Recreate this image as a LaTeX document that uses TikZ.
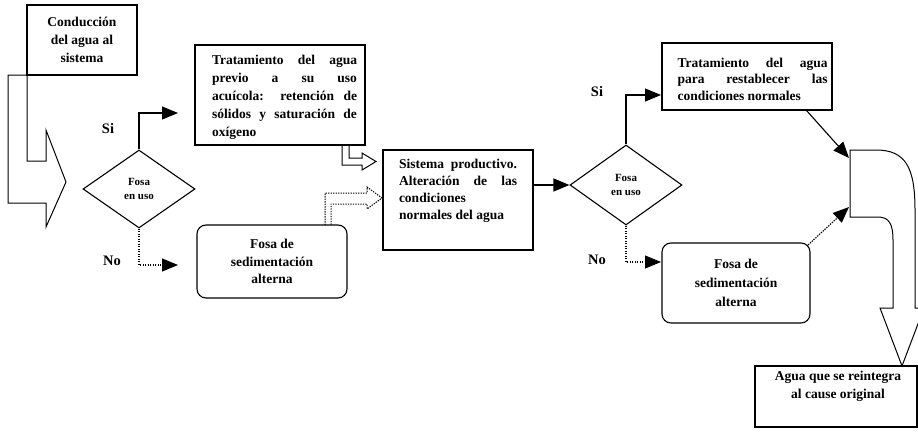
\documentclass[tikz,border=0pt]{standalone}
\usepackage{fontspec}
\setmainfont{Liberation Serif}
\usetikzlibrary{arrows.meta,shapes.geometric,calc}
\begin{document}
\begin{tikzpicture}[x=1pt,y=-1pt,
  box/.style={draw,line width=1.1pt,inner sep=0pt},
  rbox/.style={box,rounded corners=9pt},
  txt/.style={font=\bfseries\fontsize{13.5}{#1}\selectfont,inner sep=0pt},
  txt/.default=17.5,
  dia/.style={draw,diamond,line width=1.1pt,minimum width=112pt,minimum height=78pt,inner sep=0pt,
    align=center,font=\bfseries\fontsize{11}{14}\selectfont},
  lbl/.style={font=\bfseries\fontsize{14.5}{17}\selectfont,inner sep=0pt},
  arr/.style={line width=1.1pt,-{Triangle[length=16pt,width=13pt]}},
  dott/.style={dash pattern=on 1.4pt off 1.1pt},
  hollow/.style={line width=1pt,line join=miter}
]
\useasboundingbox (0,0) rectangle (918,431);

% box A
\node[box,minimum width=110pt,minimum height=70pt,txt=18,align=center] (cond) at (82,40)
  {Conducción\\del agua al\\sistema};
% hollow arrow from A
\draw[hollow] (27,75) -- (8,75) -- (8,203) -- (46,203) -- (46,227) -- (66,182) -- (46,130)
  -- (46,161) -- (27,161) -- cycle;

% diamond 1
\node[dia] (d1) at (139,189) {Fosa\\en uso};
\node[lbl] (si1) at (108,129) {Si};
\node[lbl] (no1) at (112,261) {No};

% box 2
\node[box,minimum width=170pt,minimum height=100pt] (b2) at (280,95) {};
\node[txt=18,text width=145pt,align=justify] (b2t) at (284.5,97)
  {Tratamiento del agua\linebreak previo a su uso\linebreak acuícola: retención de\linebreak
   sólidos y saturación de\linebreak oxígeno};

% box 3
\node[rbox,minimum width=150pt,minimum height=73pt,txt=17.5,align=center] (b3) at (272,261.5)
  {Fosa de\\sedimentación\\alterna};

% box 4
\node[box,minimum width=150pt,minimum height=100pt] (b4) at (458,200) {};
\node[txt=17,text width=118pt,align=justify] (b4t) at (458,191)
  {Sistema productivo.\linebreak Alteración de las\linebreak condiciones\newline normales del agua};

% diamond 2
\node[dia,minimum height=80pt] (d2) at (626,185) {Fosa\\en uso};
\node[lbl] (si2) at (597,92) {Si};
\node[lbl] (no2) at (597,260) {No};

% box 5
\node[box,minimum width=170pt,minimum height=67pt] (b5) at (747,76.5) {};
\node[txt=16.5,text width=150pt,align=justify] (b5t) at (752.5,79)
  {Tratamiento del agua\linebreak para restablecer las\linebreak condiciones normales};

% box 6
\node[rbox,minimum width=148pt,minimum height=80pt,txt=19,align=center] (b6) at (736,283)
  {Fosa de\\sedimentación\\alterna};

% box 7
\node[box,minimum width=162pt,minimum height=61pt] (b7) at (836,396.5) {};
\node[txt=18,align=center] (b7t) at (838,386) {Agua que se reintegra\\al cause original};

% connectors left
\coordinate (siA) at (178,113);
\draw[arr] (d1.north) |- (siA);
\coordinate (noA) at (178,265);
\draw[arr,dott] (d1.south) |- (noA);

% hollow arrow b2 -> b4
\draw[hollow] (342,145) -- (342,165) -- (362,165) -- (362,170) -- (376,161.5) -- (362,153)
  -- (362,158) -- (349,158) -- (349,145);
% dotted hollow arrow b3 -> b4
\draw[hollow,dott] (325,225) -- (325,193) -- (367,193) -- (367,187) -- (382,198) -- (367,209)
  -- (367,204) -- (331,204) -- (331,225);

% b4 -> d2
\draw[arr] (b4.east |- d2.west) -- (d2.west);

% right connectors
\coordinate (siB) at (661,95);
\draw[arr] (d2.north) |- (siB);
\coordinate (noB) at (661,262);
\draw[arr,dott] (d2.south) |- (noB);

% big curved hollow arrow
\draw[hollow] (850,150) -- (876,150) .. controls (906,150) and (915,168) .. (915,210)
  -- (915,308) -- (924,308) -- (902,366) -- (880,308) -- (893,308) -- (893,240)
  .. controls (893,224) and (889,217) .. (878,217) -- (850,217) -- cycle;

\coordinate (inA) at (849,158);
\draw[arr] ($(b5.south east)+(-26,0)$) -- (inA);
\coordinate (inB) at (849,207);
\draw[arr,dott] ($(b6.north east)+(-2.5,2.5)$) -- (inB);
\end{tikzpicture}
\end{document}
